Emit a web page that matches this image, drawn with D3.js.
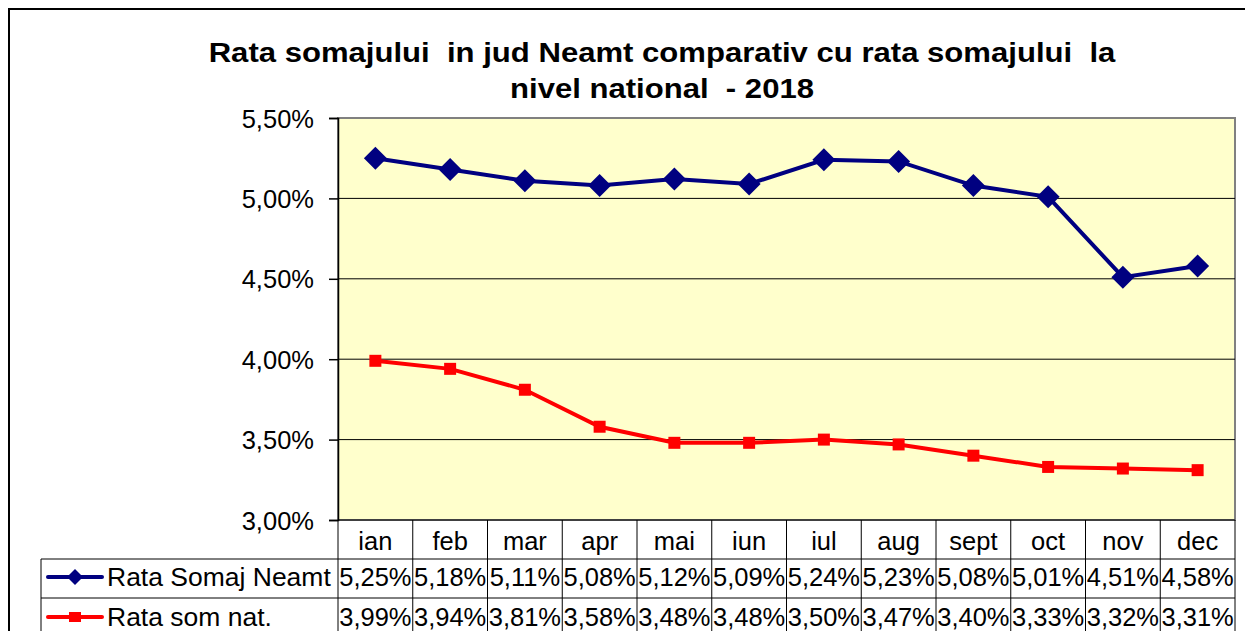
<!DOCTYPE html>
<html>
<head>
<meta charset="utf-8">
<script src="https://cdn.jsdelivr.net/npm/d3@7"></script>
<style>
  body { margin: 0; background: #fff; }
  svg { display: block; font-family: Arial, "Liberation Sans", sans-serif; }
</style>
</head>
<body>
<script>
// data
var months = ["ian", "feb", "mar", "apr", "mai", "iun", "iul", "aug", "sept", "oct", "nov", "dec"];
var neamt = [0.0525, 0.0518, 0.0511, 0.0508, 0.0512, 0.0509, 0.0524, 0.0523, 0.0508, 0.0501, 0.0451, 0.0458];
var national = [0.0399, 0.0394, 0.0381, 0.0358, 0.0348, 0.0348, 0.0350, 0.0347, 0.0340, 0.0333, 0.0332, 0.0331];
var yTicks = [0.03, 0.035, 0.04, 0.045, 0.05, 0.055];
var seriesNames = ["Rata Somaj Neamt", "Rata som nat."];

var width = 1245, height = 631;
var plot = {left: 338, right: 1235, top: 118, bottom: 520};
var rowH = 39;
var legendLeft = 41;
var fs = 25;
var sx = 1.02;

var ro = d3.formatLocale({decimal: ",", thousands: ".", grouping: [3], currency: ["", ""]});
var pct = ro.format(".2%");

var svg = d3.select("body").append("svg")
    .attr("width", width)
    .attr("height", height);

// chart border
svg.append("rect")
    .attr("x", 9).attr("y", 9)
    .attr("width", width + 20).attr("height", height + 20)
    .attr("fill", "#fff")
    .attr("stroke", "#000").attr("stroke-width", 2);

var x = d3.scaleBand().domain(months).range([plot.left, plot.right]);
var y = d3.scaleLinear().domain([0.03, 0.055]).range([plot.bottom, plot.top]);

// plot area
svg.append("rect")
    .attr("x", plot.left).attr("y", plot.top)
    .attr("width", plot.right - plot.left).attr("height", plot.bottom - plot.top)
    .attr("fill", "#FFFFCC")
    .attr("stroke", "#808080").attr("stroke-width", 2);

// gridlines
svg.append("g").selectAll("line")
    .data(yTicks.slice(1, -1))
  .enter().append("line")
    .attr("x1", plot.left).attr("x2", plot.right)
    .attr("y1", function(d) { return y(d); })
    .attr("y2", function(d) { return y(d); })
    .attr("stroke", "#000").attr("stroke-width", 1);

// y axis
var yAxis = d3.axisLeft(y).tickValues(yTicks).tickFormat(pct).tickSize(9).tickPadding(15);
var ya = svg.append("g")
    .attr("transform", "translate(" + plot.left + ",0)")
    .call(yAxis);
ya.select(".domain").attr("stroke", "#000").attr("stroke-width", 1.5);
ya.selectAll(".tick line").attr("stroke", "#000").attr("stroke-width", 1.5);
ya.selectAll(".tick text")
    .attr("font-size", fs)
    .attr("fill", "#000")
    .attr("font-family", "Arial, 'Liberation Sans', sans-serif")
    .attr("dy", "0.36em")
    .each(function() {
      var t = d3.select(this);
      var xx = +t.attr("x");
      t.attr("x", xx / sx).attr("transform", "scale(" + sx + ",1)");
    });

// title (double spaces kept with nbsp)
var title = svg.append("g")
    .attr("font-weight", "bold")
    .attr("font-size", 28)
    .attr("text-anchor", "middle");
title.append("text").attr("transform", "translate(662,62) scale(1.11,1)")
    .text("Rata somajului\u00a0 in jud Neamt comparativ cu rata somajului\u00a0 la");
title.append("text").attr("transform", "translate(662,98) scale(1.11,1)")
    .text("nivel national\u00a0 - 2018");

// lines
var line = d3.line()
    .x(function(d, i) { return x(months[i]) + x.bandwidth() / 2; })
    .y(function(d) { return y(d); });

svg.append("path").datum(neamt)
    .attr("d", line).attr("fill", "none")
    .attr("stroke", "#000080").attr("stroke-width", 4);
svg.append("path").datum(national)
    .attr("d", line).attr("fill", "none")
    .attr("stroke", "#FF0000").attr("stroke-width", 4);

var diamond = "M0,-11.5L11.5,0L0,11.5L-11.5,0Z";
var square = "M-6,-6H6V6H-6Z";

svg.append("g").selectAll("path")
    .data(neamt)
  .enter().append("path")
    .attr("d", diamond)
    .attr("fill", "#000080")
    .attr("transform", function(d, i) {
      return "translate(" + (x(months[i]) + x.bandwidth() / 2) + "," + y(d) + ")"; });

svg.append("g").selectAll("path")
    .data(national)
  .enter().append("path")
    .attr("d", square)
    .attr("fill", "#FF0000")
    .attr("transform", function(d, i) {
      return "translate(" + (x(months[i]) + x.bandwidth() / 2) + "," + y(d) + ")"; });

// data table
var table = svg.append("g");
var t0 = plot.bottom, t1 = t0 + rowH, t2 = t1 + rowH, t3 = t2 + rowH;

// horizontal lines
[[plot.left, t0], [legendLeft, t1], [legendLeft, t2], [legendLeft, t3]].forEach(function(r) {
  table.append("line")
      .attr("x1", r[0]).attr("x2", plot.right)
      .attr("y1", r[1]).attr("y2", r[1])
      .attr("stroke", "#000").attr("stroke-width", 1);
});
// vertical lines
months.concat(["end"]).forEach(function(m, i) {
  var xx = i < months.length ? x(m) : plot.right;
  table.append("line")
      .attr("x1", xx).attr("x2", xx)
      .attr("y1", t0).attr("y2", t3)
      .attr("stroke", "#000").attr("stroke-width", 1);
});
table.append("line")
    .attr("x1", legendLeft).attr("x2", legendLeft)
    .attr("y1", t1).attr("y2", t3)
    .attr("stroke", "#000").attr("stroke-width", 1);

function cellText(g, cx, cy, txt, anchor, scaleX) {
  g.append("text")
      .attr("transform", "translate(" + cx + "," + cy + ") scale(" + (scaleX || sx) + ",1)")
      .attr("text-anchor", anchor || "middle")
      .attr("font-size", fs)
      .text(txt);
}

months.forEach(function(m, i) {
  var cx = x(m) + x.bandwidth() / 2;
  cellText(table, cx, t0 + 30, m);
  cellText(table, cx, t1 + 27, pct(neamt[i]));
  cellText(table, cx, t2 + 28, pct(national[i]));
});

// legend keys
var keys = [{c: "#000080", shape: "M0,-8L8,0L0,8L-8,0Z"}, {c: "#FF0000", shape: "M-6,-5H6V5H-6Z"}];
keys.forEach(function(k, i) {
  var yy = (i === 0 ? t1 + 18 : t2 + 19);
  table.append("line")
      .attr("x1", 48).attr("x2", 102)
      .attr("y1", yy).attr("y2", yy)
      .attr("stroke", k.c).attr("stroke-width", 4)
      .attr("stroke-linecap", "round");
  table.append("path")
      .attr("d", k.shape)
      .attr("fill", k.c)
      .attr("transform", "translate(75," + yy + ")");
  cellText(table, 107, (i === 0 ? t1 + 27 : t2 + 28), seriesNames[i], "start", 1.06);
});
</script>
</body>
</html>
